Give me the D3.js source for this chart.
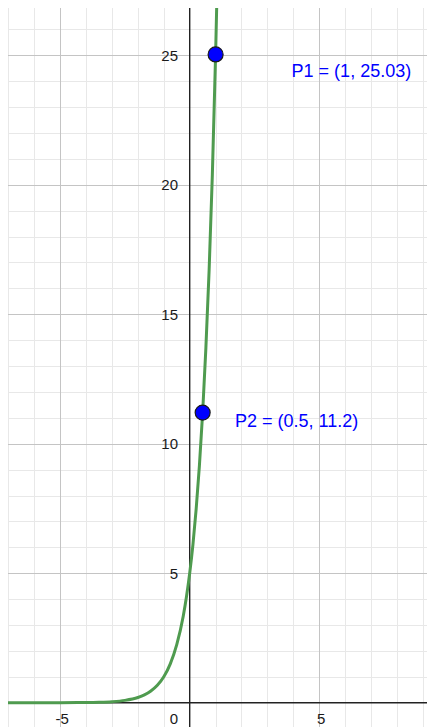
<!DOCTYPE html>
<html>
<head>
<meta charset="utf-8">
<script src="https://cdn.jsdelivr.net/npm/d3@7"></script>
<style>
  html, body { margin: 0; padding: 0; background: #fff; }
  svg { display: block; }
  text { font-family: "Liberation Sans", Arial, sans-serif; }
</style>
</head>
<body>
<div id="chart"></div>
<script>
// ---- data ----
const curveX = [-7.2, -6, -5, -4, -3.5, -3, -2.5, -2, -1.75, -1.5, -1.25, -1, -0.75, -0.5, -0.25, -0.125, 0, 0.125, 0.25, 0.375, 0.5, 0.625, 0.75, 0.875, 1, 1.1];
const curveY = [0, 0, 0.002, 0.008, 0.018, 0.04, 0.09, 0.2, 0.3, 0.45, 0.67, 1.0, 1.5, 2.24, 3.34, 4.09, 5.0, 6.1, 7.48, 9.15, 11.2, 13.7, 16.7, 20.4, 25.03, 29.4];
const pointNames = ["P1", "P2"];
const pointX = [1, 0.5];
const pointY = [25.03, 11.2];
const pointLabels = ["P1 = (1, 25.03)", "P2 = (0.5, 11.2)"];
const yTickValues = [5, 10, 15, 20, 25];
const xTickValues = [-5, 5];
const xZeroLabel = "0";

// ---- layout ----
const W = 427, H = 727;
const pLeft = 8, pTop = 8, pRight = 427, pBottom = 727;
const x0px = 189.7, y0px = 702.7, unit = 25.9;
const xDomain = [(pLeft - x0px) / unit, (pRight - x0px) / unit];
const yDomain = [(y0px - pBottom) / unit, (y0px - pTop) / unit];
const labelOffsets = [[76, 22.3], [32.3, 14]];

const svg = d3.select("#chart").append("svg").attr("width", W).attr("height", H);

const x = d3.scaleLinear().domain(xDomain).range([pLeft, pRight]);
const y = d3.scaleLinear().domain(yDomain).range([pBottom, pTop]);

svg.append("defs").append("clipPath").attr("id", "clip")
  .append("rect").attr("x", pLeft).attr("y", pTop).attr("width", pRight - pLeft).attr("height", pBottom - pTop);

const g = svg.append("g").attr("clip-path", "url(#clip)");

// minor grid
const xInts = d3.range(Math.ceil(xDomain[0]), Math.floor(xDomain[1]) + 1);
const yInts = d3.range(Math.ceil(yDomain[0]), Math.floor(yDomain[1]) + 1);
g.selectAll("line.vminor").data(xInts.filter(d => d % 5 !== 0)).join("line")
  .attr("x1", d => Math.round(x(d)) + 0.5).attr("x2", d => Math.round(x(d)) + 0.5)
  .attr("y1", pTop).attr("y2", pBottom)
  .attr("stroke", "#e8e8e8").attr("stroke-width", 1);
g.selectAll("line.hminor").data(yInts.filter(d => d % 5 !== 0)).join("line")
  .attr("y1", d => Math.round(y(d)) + 0.5).attr("y2", d => Math.round(y(d)) + 0.5)
  .attr("x1", pLeft).attr("x2", pRight)
  .attr("stroke", "#e8e8e8").attr("stroke-width", 1);
// major grid
g.selectAll("line.vmajor").data(xInts.filter(d => d % 5 === 0 && d !== 0)).join("line")
  .attr("x1", d => Math.round(x(d)) + 0.5).attr("x2", d => Math.round(x(d)) + 0.5)
  .attr("y1", pTop).attr("y2", pBottom)
  .attr("stroke", "#c4c4c4").attr("stroke-width", 1);
g.selectAll("line.hmajor").data(yInts.filter(d => d % 5 === 0 && d !== 0)).join("line")
  .attr("y1", d => Math.round(y(d)) + 0.5).attr("y2", d => Math.round(y(d)) + 0.5)
  .attr("x1", pLeft).attr("x2", pRight)
  .attr("stroke", "#c4c4c4").attr("stroke-width", 1);

// axes lines
g.append("line").attr("x1", x(0)).attr("x2", x(0)).attr("y1", pTop).attr("y2", pBottom)
  .attr("stroke", "#222").attr("stroke-width", 1.4);
g.append("line").attr("y1", y(0)).attr("y2", y(0)).attr("x1", pLeft).attr("x2", pRight)
  .attr("stroke", "#222").attr("stroke-width", 1.4);

// curve
const pts = curveX.map((d, i) => [d, curveY[i]]);
g.append("path").datum(pts)
  .attr("fill", "none").attr("stroke", "#4f9b4f").attr("stroke-width", 3)
  .attr("stroke-linejoin", "round").attr("stroke-linecap", "round")
  .attr("d", d3.line().x(d => x(d[0])).y(d => y(d[1])).curve(d3.curveMonotoneX));

// tick labels via d3 axes
const fmt = d => String(d);
const yAxis = svg.append("g").attr("transform", `translate(${x(0)},0)`)
  .call(d3.axisLeft(y).tickValues(yTickValues).tickSize(0).tickPadding(11.7).tickFormat(fmt));
const xAxis = svg.append("g").attr("transform", `translate(0,${y(0)})`)
  .call(d3.axisBottom(x).tickValues(xTickValues).tickSize(0).tickPadding(10.6).tickFormat(fmt));
[yAxis, xAxis].forEach(a => {
  a.select(".domain").remove();
  a.selectAll("text").attr("font-family", "'Liberation Sans', Arial, sans-serif")
    .attr("font-size", 15).attr("fill", "#1a1a1a");
});
xAxis.selectAll("text").attr("dx", 1.5);
svg.append("text").attr("x", x(0) - 11.7).attr("y", y(0) + 21.3)
  .attr("text-anchor", "end").attr("font-size", 15).attr("fill", "#1a1a1a").text(xZeroLabel);

// points
const pg = svg.append("g").attr("clip-path", "url(#clip)");
pg.selectAll("circle").data(pointNames).join("circle")
  .attr("cx", (d, i) => x(pointX[i])).attr("cy", (d, i) => y(pointY[i]))
  .attr("r", 7.5).attr("fill", "#0000ff").attr("stroke", "#1a1a1a").attr("stroke-width", 1.2);
pg.selectAll("text").data(pointLabels).join("text")
  .attr("x", (d, i) => x(pointX[i]) + labelOffsets[i][0])
  .attr("y", (d, i) => y(pointY[i]) + labelOffsets[i][1])
  .attr("font-size", 18).attr("fill", "#0000ff").text(d => d);
</script>
</body>
</html>
